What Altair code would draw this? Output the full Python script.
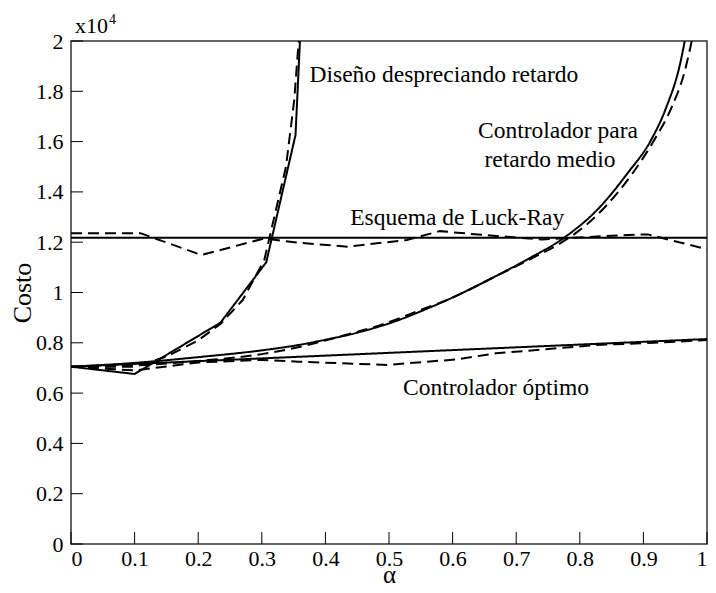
import altair as alt
import pandas as pd

# ---------------- data (cost in units of 1e4) ----------------
dis_solid_alpha = [0.0, 0.1, 0.235, 0.307, 0.353, 0.36]
dis_solid_cost = [0.705, 0.676, 0.88, 1.12, 1.626, 2.0]
dis_dash_alpha = [0.0, 0.1, 0.15, 0.2, 0.235, 0.27, 0.304, 0.338, 0.351, 0.358]
dis_dash_cost = [0.705, 0.705, 0.745, 0.81, 0.875, 0.97, 1.13, 1.5, 1.765, 2.0]

med_solid_alpha = [0.0, 0.1, 0.2, 0.3, 0.357, 0.4, 0.45, 0.481, 0.5, 0.564, 0.6, 0.668,
                   0.72, 0.772, 0.832, 0.875, 0.912, 0.935, 0.959, 0.965]
med_solid_cost = [0.705, 0.72, 0.743, 0.77, 0.791, 0.812, 0.84, 0.862, 0.877, 0.94, 0.98,
                  1.065, 1.135, 1.212, 1.341, 1.474, 1.606, 1.73, 1.924, 2.0]
med_dash_alpha = [0.0, 0.1, 0.2, 0.3, 0.357, 0.43, 0.481, 0.549, 0.6, 0.668, 0.72, 0.772,
                  0.793, 0.84, 0.883, 0.917, 0.945, 0.965, 0.976]
med_dash_cost = [0.705, 0.71, 0.728, 0.755, 0.782, 0.83, 0.866, 0.93, 0.98, 1.065, 1.13,
                 1.2, 1.235, 1.341, 1.474, 1.606, 1.74, 1.88, 2.0]

lr_solid_alpha = [0.0, 1.0]
lr_solid_cost = [1.218, 1.218]
lr_dash_alpha = [0.0, 0.109, 0.205, 0.304, 0.357, 0.435, 0.528, 0.58, 0.647, 0.741,
                 0.876, 0.907, 1.0]
lr_dash_cost = [1.236, 1.236, 1.149, 1.215, 1.198, 1.182, 1.209, 1.244, 1.229, 1.211,
                1.229, 1.231, 1.172]

opt_solid_alpha = [0.0, 1.0]
opt_solid_cost = [0.705, 0.815]
opt_dash_alpha = [0.0, 0.1, 0.2, 0.3, 0.357, 0.497, 0.606, 0.668, 0.824, 0.917, 1.0]
opt_dash_cost = [0.705, 0.69, 0.722, 0.732, 0.725, 0.712, 0.734, 0.758, 0.791, 0.8, 0.811]

label_text = ["Diseño despreciando retardo", "Controlador para", "retardo medio",
              "Esquema de Luck-Ray", "Controlador óptimo"]
label_alpha = [0.375, 0.640, 0.650, 0.439, 0.522]
label_cost = [1.838, 1.613, 1.498, 1.268, 0.592]

x_ticks = [round(i * 0.1, 1) for i in range(11)]
y_ticks = [round(i * 0.2, 1) for i in range(11)]

FONT = "Liberation Serif"
W, H = 636, 503


def frame(alpha, cost, name, style):
    return pd.DataFrame({"alpha": alpha, "cost": cost, "series": name, "style": style})


linear_df = pd.concat([
    frame(dis_solid_alpha, dis_solid_cost, "dis_s", "solid"),
    frame(dis_dash_alpha, dis_dash_cost, "dis_d", "dashed"),
    frame(lr_solid_alpha, lr_solid_cost, "lr_s", "solid"),
    frame(lr_dash_alpha, lr_dash_cost, "lr_d", "dashed"),
    frame(opt_solid_alpha, opt_solid_cost, "opt_s", "solid"),
    frame(opt_dash_alpha, opt_dash_cost, "opt_d", "dashed"),
])
smooth_df = pd.concat([
    frame(med_solid_alpha, med_solid_cost, "med_s", "solid"),
    frame(med_dash_alpha, med_dash_cost, "med_d", "dashed"),
])

X = alt.X("alpha:Q", scale=alt.Scale(domain=[0, 1], nice=False, zero=False),
          axis=alt.Axis(values=x_ticks, format="~g", title="α", grid=False,
                        ticks=False, tickSize=0, domain=False, labelFont=FONT,
                        labelFontSize=22, labelPadding=4, labelColor="black",
                        titleFont=FONT, titleFontSize=25, titleFontWeight="normal",
                        titleColor="black", titlePadding=-7))
Y = alt.Y("cost:Q", scale=alt.Scale(domain=[0, 2], nice=False, zero=False),
          axis=alt.Axis(values=y_ticks, format="~g", title="Costo", grid=False,
                        ticks=False, tickSize=0, domain=False, labelFont=FONT,
                        labelFontSize=22, labelPadding=8, labelColor="black",
                        titleFont=FONT, titleFontSize=26, titleFontWeight="normal",
                        titleColor="black", titlePadding=0))
DASH = alt.StrokeDash("style:N", scale=alt.Scale(domain=["solid", "dashed"],
                                                 range=[[1, 0], [11, 6]]), legend=None)

lines_lin = alt.Chart(linear_df).mark_line(color="black", strokeWidth=2, clip=True).encode(
    x=X, y=Y, strokeDash=DASH, detail="series:N", order="alpha:Q")
lines_smooth = alt.Chart(smooth_df).mark_line(color="black", strokeWidth=2, clip=True,
                                              interpolate="monotone").encode(
    x=X, y=Y, strokeDash=DASH, detail="series:N", order="alpha:Q")

labels_df = pd.DataFrame({"alpha": label_alpha, "cost": label_cost, "text": label_text})
labels = alt.Chart(labels_df).mark_text(font=FONT, fontSize=23.5, align="left",
                                        baseline="alphabetic", color="black").encode(
    x=X, y=Y, text="text:N")

exp_df = pd.DataFrame({"alpha": [0.0], "cost": [2.0], "text": ["x10"]})
exp_main = alt.Chart(exp_df).mark_text(font=FONT, fontSize=22, align="left",
                                       baseline="alphabetic", dx=4, dy=-8,
                                       color="black").encode(x=X, y=Y, text="text:N")
exp_pow_df = pd.DataFrame({"alpha": [0.0], "cost": [2.0], "text": ["4"]})
exp_pow = alt.Chart(exp_pow_df).mark_text(font=FONT, fontSize=14, align="left",
                                          baseline="alphabetic", dx=38, dy=-17,
                                          color="black").encode(x=X, y=Y, text="text:N")

yt_df = pd.DataFrame({"cost": y_ticks})
ytick = alt.Chart(yt_df).mark_rule(color="black", strokeWidth=1).encode(
    y=Y, x=alt.value(0), x2=alt.value(12))
xt_df = pd.DataFrame({"alpha": x_ticks})
xtick = alt.Chart(xt_df).mark_rule(color="black", strokeWidth=1).encode(
    x=X, y=alt.value(H), y2=alt.value(H - 12))

chart = alt.layer(ytick, xtick, lines_lin, lines_smooth, labels, exp_main, exp_pow).properties(
    width=W, height=H,
    autosize=alt.AutoSizeParams(type="none"),
    padding={"left": 63, "top": 33, "right": 1, "bottom": 40},
    background="white",
).configure_view(stroke="#333333", strokeWidth=1.5)

chart.save("out.html", embed_options={"renderer": "svg", "actions": False})
